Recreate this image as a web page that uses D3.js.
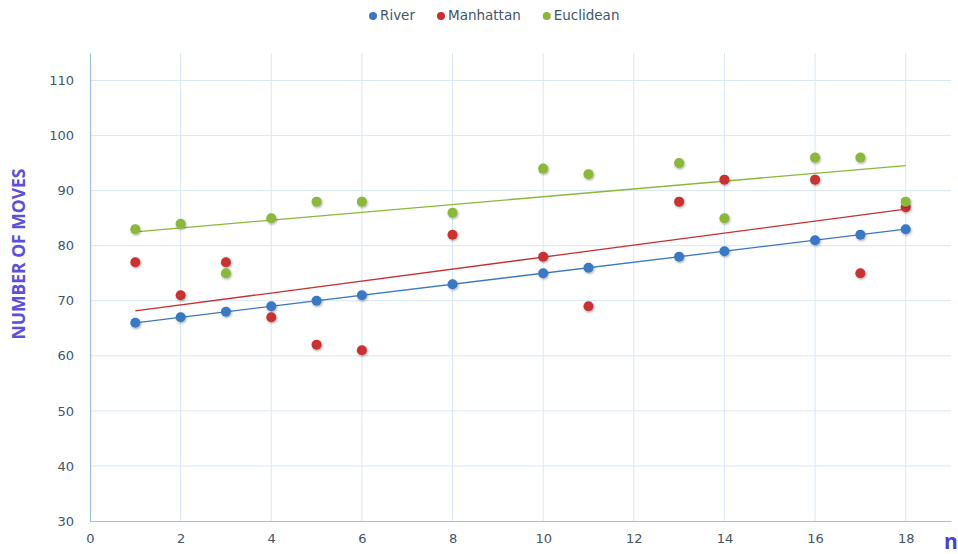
<!DOCTYPE html>
<html>
<head>
<meta charset="utf-8">
<script src="https://cdn.jsdelivr.net/npm/d3@7"></script>
<style>
  body { margin: 0; background: #fff; }
  svg { font-family: "DejaVu Sans", "Liberation Sans", sans-serif; }
</style>
</head>
<body>
<div id="chart"></div>
<script>
const xs = [1, 2, 3, 4, 5, 6, 8, 10, 11, 13, 14, 16, 17, 18];
const river = [66, 67, 68, 69, 70, 71, 73, 75, 76, 78, 79, 81, 82, 83];
const manhattan = [77, 71, 77, 67, 62, 61, 82, 78, 69, 88, 92, 92, 75, 87];
const euclidean = [83, 84, 75, 85, 88, 88, 86, 94, 93, 95, 85, 96, 96, 88];
const seriesNames = ['River', 'Manhattan', 'Euclidean'];
const xTicks = [0, 2, 4, 6, 8, 10, 12, 14, 16, 18];
const yTicks = [30, 40, 50, 60, 70, 80, 90, 100, 110];

const colors = { River: '#3b78c4', Manhattan: '#c93030', Euclidean: '#8ab83a' };
const series = [
    { name: 'River', values: river },
    { name: 'Manhattan', values: manhattan },
    { name: 'Euclidean', values: euclidean }
];

const W = 958, H = 554;
const x = d3.scaleLinear().domain([0, 19]).range([90, 951]);
const y = d3.scaleLinear().domain([30, 115]).range([521, 53]);

const svg = d3.select('#chart').append('svg').attr('width', W).attr('height', H);

const defs = svg.append('defs');
const f = defs.append('filter').attr('id', 'sh').attr('x', '-50%').attr('y', '-50%').attr('width', '200%').attr('height', '200%');
f.append('feDropShadow').attr('dx', 0.8).attr('dy', 1.2).attr('stdDeviation', 1.1)
    .attr('flood-color', '#000').attr('flood-opacity', 0.35);

// grid
svg.append('g').selectAll('line').data(yTicks.filter(v => v > 30)).join('line')
    .attr('x1', x(0)).attr('x2', x(19)).attr('y1', d => y(d)).attr('y2', d => y(d))
    .attr('stroke', '#d9e6f6').attr('stroke-width', 1);
svg.append('g').selectAll('line').data(xTicks.filter(v => v > 0)).join('line')
    .attr('x1', d => x(d)).attr('x2', d => x(d)).attr('y1', y(115)).attr('y2', y(30))
    .attr('stroke', '#d9e6f6').attr('stroke-width', 1);

// axes
const xAxis = svg.append('g').attr('transform', `translate(0,${y(30)})`)
    .call(d3.axisBottom(x).tickValues(xTicks).tickSize(0).tickPadding(13));
const yAxis = svg.append('g').attr('transform', `translate(${x(0)},0)`)
    .call(d3.axisLeft(y).tickValues(yTicks).tickSize(0).tickPadding(16));
[xAxis, yAxis].forEach(a => {
    a.select('.domain').attr('stroke', '#9cc0e8').attr('stroke-width', 1.2);
    a.selectAll('text').attr('fill', '#44546a').style('font-size', '13px')
        .style('font-family', '"DejaVu Sans", sans-serif');
});

// trendlines
series.forEach(s => {
    const mx = d3.mean(xs), my = d3.mean(s.values);
    const b = d3.sum(xs, (v, i) => (v - mx) * (s.values[i] - my)) / d3.sum(xs, v => (v - mx) ** 2);
    const a = my - b * mx;
    svg.append('line')
        .attr('x1', x(1)).attr('y1', y(a + b * 1))
        .attr('x2', x(18)).attr('y2', y(a + b * 18))
        .attr('stroke', colors[s.name]).attr('stroke-width', 1.3);
});

// points
series.forEach(s => {
    svg.append('g').selectAll('circle').data(s.values).join('circle')
        .attr('cx', (d, i) => x(xs[i])).attr('cy', d => y(d)).attr('r', 5)
        .attr('fill', colors[s.name]).attr('filter', 'url(#sh)');
});

// legend
const legend = svg.append('g').attr('transform', 'translate(369,15)');
let lx = 0;
seriesNames.forEach(name => {
    const g = legend.append('g').attr('transform', `translate(${lx},0)`);
    g.append('circle').attr('cx', 4).attr('cy', 1).attr('r', 4).attr('fill', colors[name]);
    const t = g.append('text').attr('x', 11).attr('y', 5).text(name)
        .attr('fill', '#44546a').style('font-size', '13.5px');
    lx += t.node().getComputedTextLength() + 33;
});

// axis titles
svg.append('text').attr('transform', `translate(25,254) rotate(-90)`)
    .attr('text-anchor', 'middle').text('NUMBER OF MOVES')
    .attr('fill', '#5a50dc').style('font-size', '17.5px').style('font-weight', 'bold')
    .style('font-family', '"Open Sans", sans-serif');
svg.append('text').attr('x', 944).attr('y', 549).text('n')
    .attr('fill', '#4a42c8').style('font-size', '21px').style('font-weight', 'bold')
    .style('font-family', '"Open Sans", sans-serif');
</script>
</body>
</html>
